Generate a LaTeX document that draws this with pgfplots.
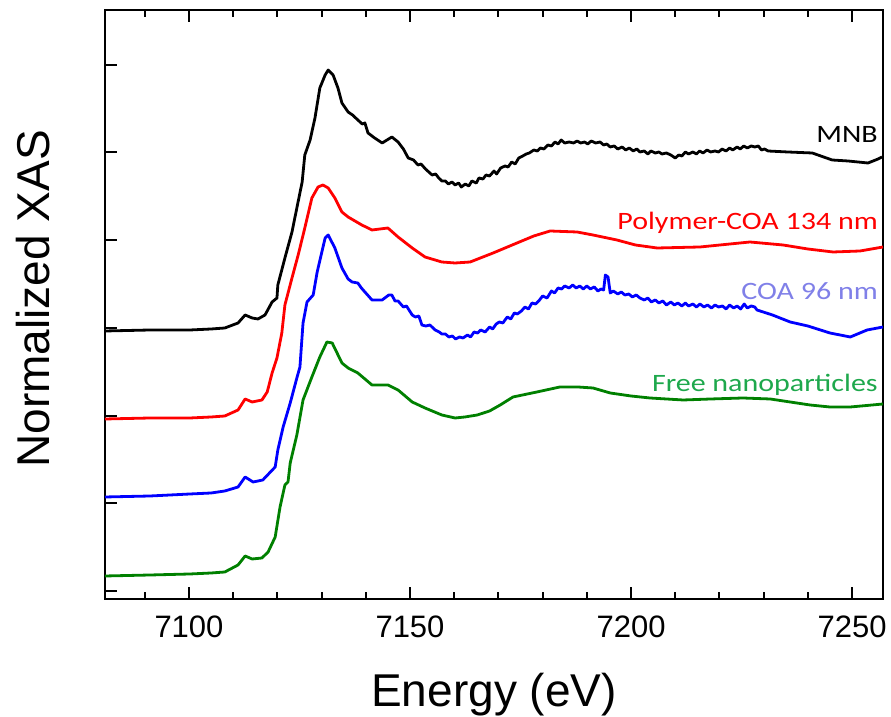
\documentclass[border=0pt]{standalone}
\usepackage{fontspec}
\setmainfont{Liberation Sans}
\newfontfamily\calib{Carlito}
\usepackage{graphicx}
\usepackage{pgfplots}
\pgfplotsset{compat=1.18}

\definecolor{cgreen}{RGB}{0,128,0}
\definecolor{lblue}{RGB}{128,128,232}
\definecolor{lgreen}{RGB}{30,168,76}
\newcommand{\tag}[1]{{\calib\fontsize{12.5}{14}\selectfont\scalebox{1.2}[1]{#1}}}

\begin{document}
\begin{tikzpicture}
\begin{axis}[
  at={(0,0)}, anchor=south west,
  scale only axis, width=389pt, height=294.25pt,
  xmin=7081, xmax=7257, ymin=0, ymax=5.885,
  xtick={7100,7150,7200,7250},
  ytick={0.08,0.957,1.834,2.711,3.588,4.465,5.342}, yticklabels={},
  ytick pos=left,
  tick align=inside,
  major tick length=6pt,
  tick style={draw=black, line width=1pt},
  axis line style={line width=1pt},
  /pgf/number format/assume math mode=true,
  /pgf/number format/1000 sep={},
  xticklabel style={font=\fontsize{15.5}{18}\selectfont, anchor=base, yshift=-19.5pt},
  xlabel={Energy (eV)}, ylabel={Normalized XAS},
  xlabel style={font=\fontsize{23}{27}\selectfont, at={(axis description cs:0.5,-0.1835)}, anchor=base},
  ylabel style={font=\fontsize{23}{27}\selectfont, at={(axis description cs:-0.0707,0.51)}, anchor=base},
  every axis plot/.append style={line width=1.4pt, line join=round},
  clip=false,
]
% tick marks on the bottom and top edges (6pt = 0.12, 3.5pt = 0.07 in y units)
\pgfplotsinvokeforeach{7100,7150,7200,7250}{
  \draw[line width=1pt] (axis cs:#1,0) -- (axis cs:#1,0.12);
  \draw[line width=1pt] (axis cs:#1,5.885) -- (axis cs:#1,5.765);
}
\pgfplotsinvokeforeach{7090,7110,7120,7130,7140,7160,7170,7180,7190,7210,7220,7230,7240}{
  \draw[line width=1pt] (axis cs:#1,0) -- (axis cs:#1,0.07);
  \draw[line width=1pt] (axis cs:#1,5.885) -- (axis cs:#1,5.815);
}
% MNB
\addplot[black] coordinates {
(7081.0,2.68) (7091.2,2.69) (7100.2,2.69) (7105.0,2.70) (7108.1,2.71) (7111.1,2.76) (7112.7,2.84)
(7114.3,2.81) (7115.6,2.80) (7117.2,2.84) (7118.8,2.97) (7119.9,3.01) (7120.1,3.14)
(7121.7,3.41) (7123.3,3.67) (7124.4,3.91) (7125.6,4.17) (7126.2,4.44) (7127.4,4.59)
(7128.5,4.81) (7129.6,5.11) (7130.8,5.24) (7131.5,5.29) (7132.6,5.24) (7133.7,5.11)
(7134.6,4.96) (7136.0,4.87) (7137.0,4.84) (7138.2,4.79) (7139.2,4.75) (7139.8,4.76) (7140.5,4.66)
(7142.0,4.61) (7143.7,4.56) (7145.9,4.62) (7147.3,4.57) (7148.5,4.50) (7149.6,4.41)
(7150.8,4.39) (7151.8,4.34) (7152.5,4.35) (7153.5,4.30) (7155.0,4.24) (7155.8,4.25) (7156.5,4.21) (7157.2,4.18)
(7158,4.18) (7158.7,4.15) (7159.5,4.17) (7160.2,4.14) (7161,4.16) (7161.6,4.12)
(7162.5,4.15) (7163.3,4.13) (7164,4.18) (7165,4.16) (7165.6,4.21) (7166.5,4.20)
(7167.2,4.24) (7168,4.23) (7169,4.28) (7169.6,4.25) (7170.5,4.31) (7171.5,4.33)
(7172.2,4.32) (7173,4.37) (7173.8,4.35) (7174.6,4.41) (7175.5,4.43) (7176.3,4.45)
(7177,4.46) (7178,4.49) (7178.8,4.48) (7179.5,4.51) (7180.3,4.50) (7181.2,4.54)
(7182,4.53) (7182.8,4.57) (7183.5,4.55) (7184.2,4.59) (7185,4.56) (7186,4.57)
(7187,4.56) (7187.8,4.58) (7188.6,4.56) (7189.5,4.57) (7190.2,4.55) (7191,4.58)
(7192,4.56) (7193,4.57) (7193.8,4.54) (7194.5,4.55) (7195.3,4.52) (7196.2,4.53)
(7197,4.50) (7198,4.52) (7198.8,4.49) (7199.6,4.51) (7200.5,4.48) (7201.3,4.50)
(7202,4.47) (7203,4.48) (7203.8,4.45) (7204.5,4.48) (7205.5,4.46) (7206.3,4.47)
(7207,4.45) (7208,4.46) (7209,4.44) (7210,4.41) (7210.8,4.44) (7211.5,4.43)
(7212.3,4.47) (7213,4.45) (7214,4.47) (7214.8,4.45) (7215.5,4.48) (7216.3,4.46)
(7217.2,4.49) (7218,4.47) (7219,4.48) (7219.8,4.47) (7220.6,4.50) (7221.5,4.48)
(7222.3,4.51) (7223,4.49) (7224,4.52) (7224.7,4.50) (7225.5,4.53) (7226.3,4.51)
(7227.2,4.53) (7228,4.52) (7228.8,4.53) (7229.5,4.49) (7230.2,4.50) (7231,4.48)
(7235.5,4.47) (7241.0,4.46) (7245.5,4.39) (7249.1,4.38) (7253.6,4.36) (7255.9,4.40) (7256.8,4.42)
};
% Polymer-COA 134 nm
\addplot[red] coordinates {
(7081.0,1.80) (7091.2,1.81) (7100.2,1.81) (7105.0,1.82) (7108.1,1.83) (7111.1,1.89) (7112.7,2.00)
(7114.3,1.97) (7116.5,1.99) (7117.7,2.07) (7118.8,2.26) (7119.9,2.41) (7121.0,2.66)
(7121.7,2.94) (7123.3,3.21) (7124.7,3.44) (7126.2,3.71) (7127.8,4.01) (7129.2,4.12)
(7130.3,4.14) (7131.5,4.11) (7133.0,4.01) (7134.6,3.87) (7136.0,3.82) (7139.1,3.74)
(7141.4,3.69) (7145.0,3.71) (7147.3,3.62) (7150.5,3.51) (7153.4,3.42) (7157.2,3.37)
(7160.2,3.36) (7163.6,3.37) (7168.8,3.46) (7174.2,3.56) (7178.0,3.63) (7181.7,3.68) (7187.8,3.67)
(7191.4,3.64) (7196.8,3.59) (7201.0,3.54) (7205.9,3.51) (7215.6,3.52) (7226.9,3.57) (7234.4,3.54)
(7240.0,3.50) (7245.7,3.47) (7251.8,3.48) (7257.0,3.52)
};
% COA 96 nm
\addplot[blue] coordinates {
(7081.0,1.02) (7091.2,1.03) (7100.2,1.05) (7105.0,1.06) (7108.1,1.08) (7111.1,1.12) (7112.7,1.22)
(7114.5,1.17) (7116.7,1.19) (7119.5,1.32) (7120.1,1.49) (7121.3,1.72) (7122.9,1.96)
(7124.4,2.21) (7125.1,2.32) (7125.8,2.76) (7126.7,2.97) (7128.1,3.04) (7129.0,3.27)
(7130.8,3.61) (7131.5,3.64) (7133.0,3.51) (7134.6,3.31) (7136.0,3.20) (7136.9,3.17)
(7138.2,3.16) (7139.0,3.11) (7139.8,3.07) (7141.4,2.99) (7143.7,2.99) (7145.2,3.04)
(7145.9,3.04) (7146.6,2.98) (7147.3,2.98) (7148.5,2.92) (7149.2,2.93) (7150.5,2.84) (7151.2,2.82)
(7152.0,2.83) (7152.7,2.74) (7153.6,2.73) (7154.5,2.74) (7155.7,2.69) (7156.6,2.67) (7157.2,2.65)
(7158,2.65) (7158.8,2.62) (7159.6,2.63) (7160.3,2.60) (7161.2,2.62) (7162,2.61)
(7163,2.64) (7163.7,2.62) (7164.5,2.67) (7165.3,2.66) (7166,2.69) (7167,2.67)
(7168,2.72) (7168.7,2.70) (7169.5,2.75) (7170.2,2.77) (7171,2.76) (7172,2.82)
(7172.8,2.80) (7173.6,2.86) (7174.3,2.85) (7175.2,2.88) (7176,2.92) (7176.8,2.90)
(7177.6,2.96) (7178.4,2.95) (7179.3,2.99) (7180,3.03) (7181,3.01) (7182,3.08)
(7182.7,3.06) (7183.5,3.11) (7184.3,3.10) (7185,3.13) (7186,3.11) (7186.8,3.14)
(7187.6,3.11) (7188.4,3.13) (7189.2,3.10) (7190,3.13) (7190.8,3.10) (7191.7,3.12)
(7192.5,3.08) (7193.2,3.10) (7193.8,3.09) (7194.2,3.24) (7194.8,3.22) (7195.3,3.06)
(7196,3.08) (7197,3.05) (7197.8,3.07) (7198.6,3.04) (7199.5,3.05) (7200.3,3.02)
(7201.2,3.04) (7202,3.01) (7203,2.99) (7203.8,3.01) (7204.6,2.97) (7205.5,2.99)
(7206.3,2.96) (7207.2,2.98) (7208,2.94) (7209,2.97) (7209.8,2.94) (7210.6,2.96)
(7211.5,2.93) (7212.3,2.96) (7213,2.93) (7214,2.95) (7214.8,2.92) (7215.6,2.95)
(7216.5,2.92) (7217.3,2.94) (7218.2,2.91) (7219,2.94) (7219.8,2.92) (7220.7,2.93)
(7221.5,2.90) (7222.3,2.94) (7223.2,2.91) (7224,2.93) (7224.8,2.90) (7225.6,2.95)
(7226.3,2.91) (7227.2,2.93) (7228,2.92) (7228.5,2.89) (7232.0,2.84) (7236.0,2.77)
(7240.0,2.73) (7245.0,2.66) (7249.6,2.62) (7253.4,2.69) (7257.0,2.72)
};
% Free nanoparticles
\addplot[cgreen] coordinates {
(7081.0,0.23) (7091.2,0.24) (7100.2,0.25) (7105.0,0.26) (7108.1,0.27) (7111.1,0.34) (7112.7,0.43)
(7114.3,0.40) (7116.5,0.41) (7117.9,0.47) (7119.5,0.62) (7120.6,0.92) (7121.7,1.14)
(7122.4,1.17) (7122.9,1.36) (7124.4,1.64) (7125.8,1.99) (7127.8,2.22) (7129.6,2.42)
(7131.2,2.57) (7132.4,2.56) (7134.6,2.36) (7136.0,2.31) (7138.2,2.26) (7141.4,2.14)
(7145.0,2.14) (7147.3,2.09) (7150.5,1.97) (7153.4,1.91) (7157.2,1.84) (7160.2,1.81)
(7162.4,1.82) (7165.2,1.84) (7168.0,1.88) (7170.4,1.94) (7173.3,2.02) (7178.7,2.07) (7183.9,2.12)
(7188.0,2.12) (7191.4,2.11) (7195.3,2.06) (7200.0,2.03) (7204.3,2.01) (7211.8,1.99) (7218.0,2.00) (7225.3,2.01) (7231.5,2.00)
(7236.0,1.97) (7240.5,1.94) (7245.0,1.92) (7249.6,1.92) (7257.0,1.95)
};
\node[anchor=base east, inner sep=0pt, text=black] at (axis cs:7255.9,4.56) {\tag{MNB}};
\node[anchor=base east, inner sep=0pt, text=red] at (axis cs:7255.9,3.69) {\tag{Polymer-COA 134 nm}};
\node[anchor=base east, inner sep=0pt, text=lblue] at (axis cs:7255.9,2.99) {\tag{COA 96 nm}};
\node[anchor=base east, inner sep=0pt, text=lgreen] at (axis cs:7255.9,2.07) {\tag{Free nanoparticles}};
\end{axis}
\pgfresetboundingbox
\path (-52.5pt,-59pt) rectangle (393pt,299.5pt);
\end{tikzpicture}
\end{document}
